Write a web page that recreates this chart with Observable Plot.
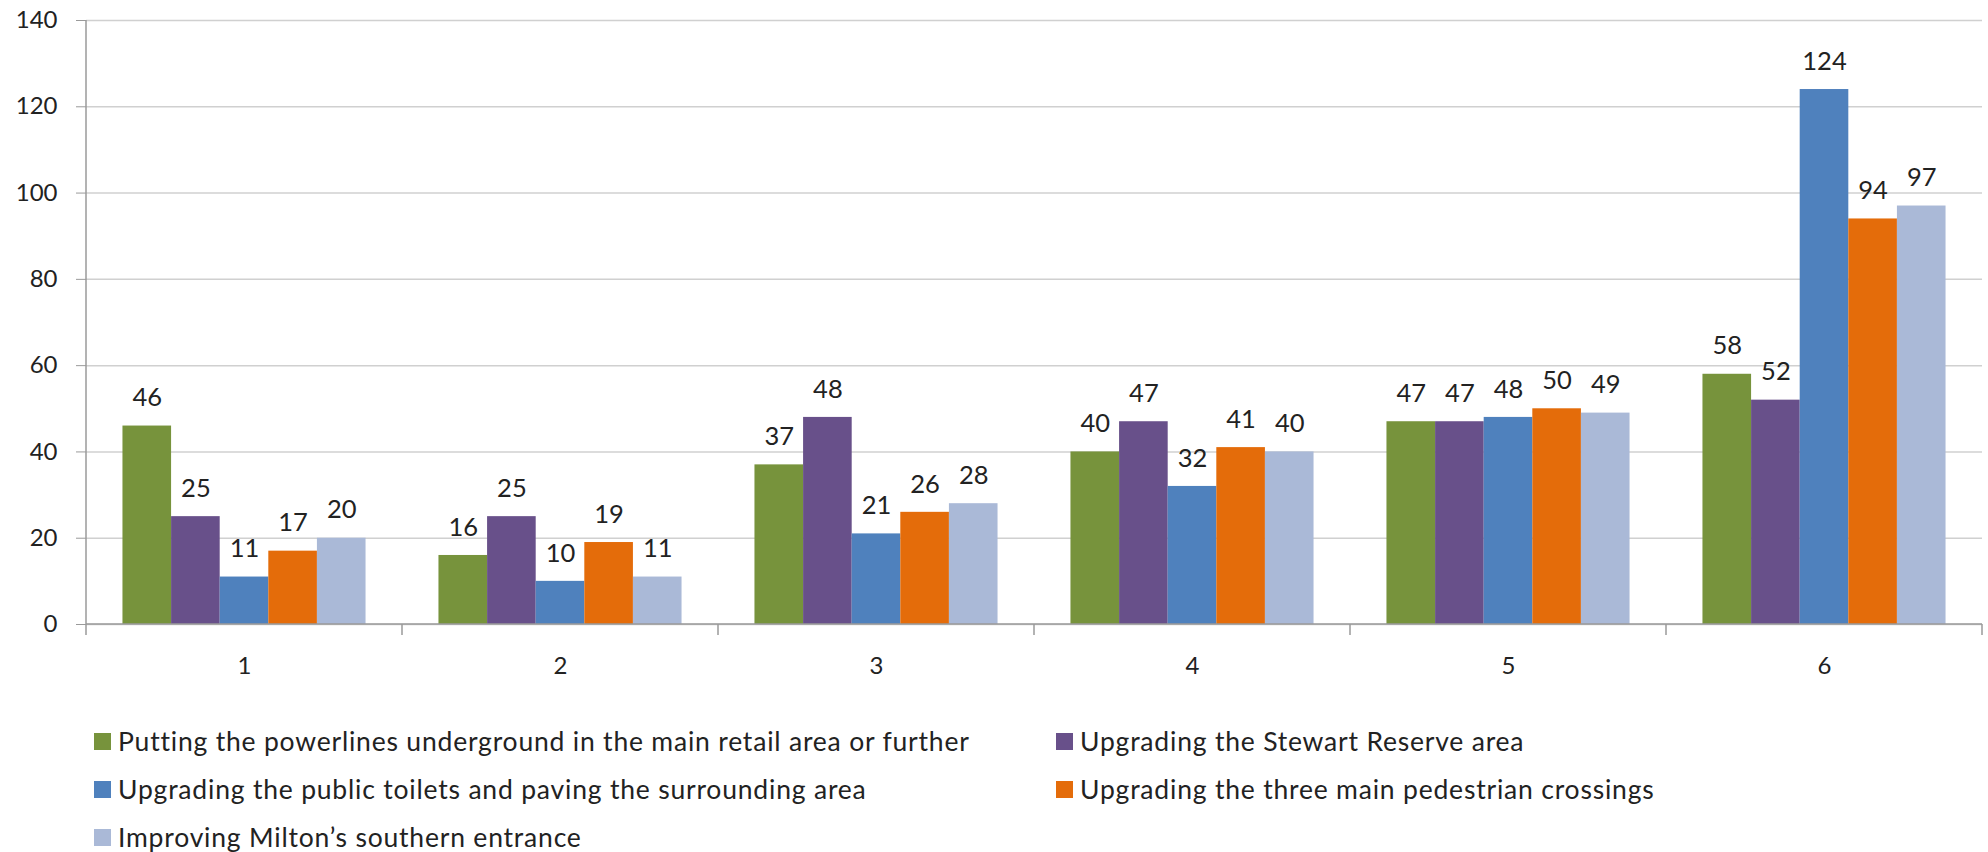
<!DOCTYPE html>
<html><head><meta charset="utf-8">
<script src="https://cdn.jsdelivr.net/npm/d3@7"></script>
<script src="https://cdn.jsdelivr.net/npm/@observablehq/plot@0.6"></script>
<style>
body{margin:0;background:#fff;font-family:Lato,sans-serif;}
#chart{width:1988px;}
#legend{position:relative;width:1988px;height:152px;}
.item{position:absolute;display:flex;align-items:center;font-size:26.5px;letter-spacing:0.8px;color:#222;white-space:nowrap;height:30px;font-family:Lato,sans-serif;}
.sw{width:17px;height:17px;margin-right:7px;flex:none;}
</style></head><body>
<div id="chart"></div>
<div id="legend"></div>
<script>
const groups = [1, 2, 3, 4, 5, 6];
const seriesNames = [
  "Putting the powerlines underground in the main retail area or further",
  "Upgrading the Stewart Reserve area",
  "Upgrading the public toilets and paving the surrounding area",
  "Upgrading the three main pedestrian crossings",
  "Improving Milton\u2019s southern entrance"
];
const seriesColors = ["#77933C", "#68508A", "#4F81BD", "#E46C0A", "#AAB9D7"];
const powerlines = [46, 16, 37, 40, 47, 58];
const stewart = [25, 25, 48, 47, 47, 52];
const toilets = [11, 10, 21, 32, 48, 124];
const crossings = [17, 19, 26, 41, 50, 94];
const entrance = [20, 11, 28, 40, 49, 97];
const yTicks = [0, 20, 40, 60, 80, 100, 120, 140];

const seriesValues = [powerlines, stewart, toilets, crossings, entrance];
const data = groups.flatMap((g, i) => seriesNames.map((s, j) => ({group: g, series: s, value: seriesValues[j][i]})));

const chart = Plot.plot({
  width: 1988, height: 700,
  marginLeft: 84, marginRight: 5, marginTop: 20, marginBottom: 76,
  style: {fontFamily: "Lato, sans-serif", fontSize: "24px", color: "#222", background: "#fff", overflow: "visible"},
  fx: {domain: groups, padding: 0, label: null},
  x: {domain: seriesNames, paddingInner: 0, paddingOuter: 0.75, round: false, axis: null},
  y: {domain: [0, 140], label: null},
  color: {domain: seriesNames, range: seriesColors},
  marks: [
    Plot.gridY(yTicks, {stroke: "#d0d0d0", strokeOpacity: 1, strokeWidth: 1.5}),
    Plot.barY(data, {fx: "group", x: "series", y: "value", fill: "series"}),
    Plot.text(data, {fx: "group", x: "series", y: "value", text: "value", dy: -28, fontSize: 25.5, fill: "#222"}),
    Plot.axisY(yTicks, {tickSize: 10, tickPadding: 19, stroke: "#9a9a9a", color: "#222", fill: "#222", fontSize: 24, label: null}),
    Plot.axisFx({anchor: "bottom", tickSize: 0, tickPadding: 32, fontSize: 24, label: null, fill: "#222", color: "#222"})
  ]
});
document.getElementById("chart").appendChild(chart);

// axis lines and category boundary ticks from the library's scales
const fx = chart.scale("fx"), y = chart.scale("y");
const y0 = y.apply(0), yTop = y.apply(140);
const bounds = groups.map(g => fx.apply(g)).concat([fx.apply(groups[groups.length - 1]) + fx.bandwidth]);
const g = d3.select(chart).append("g").attr("stroke", "#9a9a9a").attr("stroke-width", 1.5);
g.append("line").attr("x1", bounds[0]).attr("x2", bounds[0]).attr("y1", yTop).attr("y2", y0);
g.append("line").attr("x1", bounds[0]).attr("x2", bounds[bounds.length - 1]).attr("y1", y0).attr("y2", y0);
g.selectAll("line.b").data(bounds).join("line").attr("class", "b")
  .attr("x1", d => d).attr("x2", d => d).attr("y1", y0).attr("y2", y0 + 11);
d3.select(chart).selectAll('g[aria-label="y-axis tick"] path').attr("stroke", "#9a9a9a");

// legend
const legendPos = [[94, 26], [1056, 26], [94, 74], [1056, 74], [94, 122]];
const legend = d3.select("#legend");
seriesNames.forEach((s, i) => {
  const it = legend.append("div").attr("class", "item")
    .style("left", legendPos[i][0] + "px").style("top", legendPos[i][1] + "px");
  it.append("div").attr("class", "sw").style("background", seriesColors[i]);
  it.append("span").text(s);
});
</script>
</body></html>
